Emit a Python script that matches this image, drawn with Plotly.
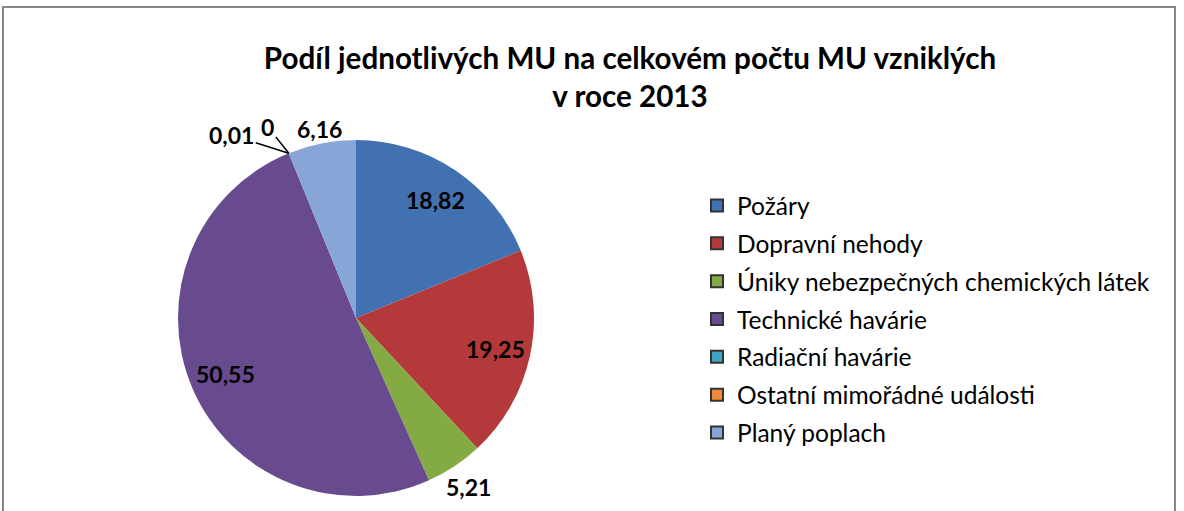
import math
import plotly.graph_objects as go

categories = ["Požáry", "Dopravní nehody", "Úniky nebezpečných chemických látek",
              "Technické havárie", "Radiační havárie", "Ostatní mimořádné události",
              "Planý poplach"]
values = [18.82, 19.25, 5.21, 50.55, 0.01, 0, 6.16]
colors = ["#4271B1", "#B3393A", "#84AA44", "#684A8E", "#3FA6C2", "#F08A3A", "#88A5D8"]
title_lines = ["Podíl jednotlivých MU na celkovém počtu MU vzniklých", "v roce 2013"]

# label placement style: radial distance (in radii) of each value label,
# or a pixel offset from the slice start for leader-line labels
label_radius = [0.8, 0.8, 1.14, 0.8, None, None, 1.08]
leader_offsets = {4: (-57, -18), 5: (-21, -26)}

W, H = 1184, 511
cx, cy, r = 356, 318, 178

fig = go.Figure()
fig.add_trace(go.Pie(
    labels=categories, values=values, sort=False, direction="clockwise", rotation=0,
    marker=dict(colors=colors, line=dict(width=0)),
    textinfo="none", showlegend=False, hoverinfo="label+value",
    domain=dict(x=[(cx - r) / W, (cx + r) / W], y=[1 - (cy + r) / H, 1 - (cy - r) / H]),
))

for i, (c, col) in enumerate(zip(categories, colors)):
    fig.add_trace(go.Scatter(
        x=[None], y=[None], mode="markers", name=c, legendgroup=str(i),
        marker=dict(symbol="square", size=13, color=col, line=dict(color="#333", width=0.5)),
    ))

total = sum(values)
label_font = dict(family="Lato", size=23, color="black")


def fmt(v):
    return "<b>" + f"{v:g}".replace(".", ",") + "</b>"


annotations = []
cum = 0.0
for i, v in enumerate(values):
    a0 = cum / total * 2 * math.pi
    cum += v
    a1 = cum / total * 2 * math.pi
    if i in leader_offsets:
        ax, ay = leader_offsets[i]
        px = cx + r * math.sin(a0)
        py = cy - r * math.cos(a0)
        annotations.append(dict(
            x=px / W, y=1 - py / H, xref="paper", yref="paper", text=fmt(v),
            showarrow=True, arrowhead=0, arrowwidth=1.5, arrowcolor="black",
            ax=ax, ay=ay, font=label_font))
    else:
        am = (a0 + a1) / 2
        rr = r * label_radius[i]
        px = cx + rr * math.sin(am)
        py = cy - rr * math.cos(am)
        annotations.append(dict(
            x=px / W, y=1 - py / H, xref="paper", yref="paper", text=fmt(v),
            showarrow=False, xanchor="center", yanchor="middle", font=label_font))

fig.update_layout(
    width=W, height=H,
    margin=dict(l=0, r=0, t=0, b=0),
    paper_bgcolor="white", plot_bgcolor="white",
    font=dict(family="Lato"),
    title=dict(text="<br>".join("<b>" + t + "</b>" for t in title_lines),
               x=630 / W, xanchor="center", y=1 - 69 / H, yanchor="top",
               font=dict(family="Lato", size=29.6, color="black")),
    xaxis=dict(visible=False), yaxis=dict(visible=False),
    legend=dict(x=697 / W, xanchor="left", y=1 - 183 / H, yanchor="top",
                font=dict(family="Lato", size=24.5, color="black"),
                tracegroupgap=3, itemsizing="constant", bgcolor="rgba(0,0,0,0)"),
    annotations=annotations,
    shapes=[dict(type="rect", xref="paper", yref="paper",
                 x0=3 / W, x1=1175 / W, y0=-0.1, y1=1 - 7 / H,
                 line=dict(color="#878787", width=2), fillcolor="rgba(0,0,0,0)")],
)

fig.write_html("out.html", config={"displayModeBar": False},
               post_script="document.body.style.margin='0';")
